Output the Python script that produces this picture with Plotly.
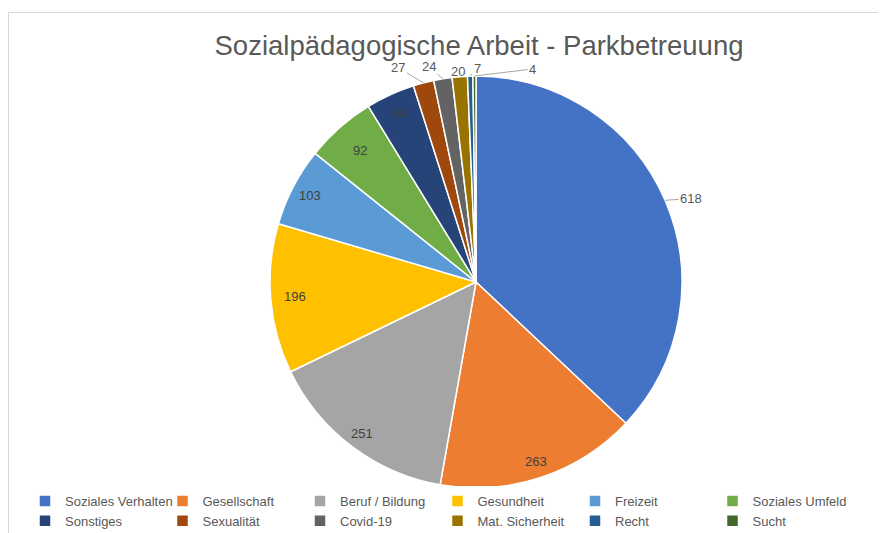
import math
import plotly.graph_objects as go

categories = ["Soziales Verhalten", "Gesellschaft", "Beruf / Bildung", "Gesundheit",
              "Freizeit", "Soziales Umfeld", "Sonstiges", "Sexualität", "Covid-19",
              "Mat. Sicherheit", "Recht", "Sucht"]
values = [618, 263, 251, 196, 103, 92, 64, 27, 24, 20, 7, 4]
colors = ["#4472C4", "#ED7D31", "#A5A5A5", "#FFC000", "#5B9BD5", "#70AD47",
          "#264478", "#9E480E", "#636363", "#997300", "#255E91", "#43682B"]

# label styling: inside labels at a fraction of the radius, outside labels with leader offsets (px)
label_outside = [True, False, False, False, False, False, False, True, True, True, True, True]
label_rfrac = [1.0, 0.92, 0.92, 0.88, 0.91, 0.85, 0.90, 1.0, 1.0, 1.0, 1.0, 1.0]
label_offset = [(26, -2), None, None, None, None, None, None,
                (-25, -15), (-14, -12), (-2, -5), (7, -8), (58, -7)]

W, H = 886, 533
OFF = 8  # page offset of the figure in the browser window
FONT = "Liberation Sans"
CX, CY, R = 476 - OFF, 282 - OFF, 206  # pie placement in figure px


def px2paper(px, py):
    return px / W, 1 - py / H


fig = go.Figure(go.Pie(
    labels=categories,
    values=values,
    sort=False,
    direction="clockwise",
    rotation=0,
    marker=dict(colors=colors, line=dict(color="white", width=1.5)),
    textinfo="none",
    textposition="none",
    domain=dict(x=[(CX - R) / W, (CX + R) / W], y=[(H - CY - R) / H, (H - CY + R) / H]),
    hoverinfo="label+value+percent",
))

# data labels derived from the slice angles
total = sum(values)
annotations = []
cum = 0
for v, out, rf, off in zip(values, label_outside, label_rfrac, label_offset):
    mid = (cum + v / 2) / total * 2 * math.pi
    cum += v
    ax_, ay_ = px2paper(CX + rf * R * math.sin(mid), CY - rf * R * math.cos(mid))
    if out:
        annotations.append(dict(
            x=ax_, y=ay_, xref="paper", yref="paper",
            text=str(v), showarrow=True, arrowhead=0, arrowwidth=1,
            arrowcolor="#A6A6A6", ax=off[0], ay=off[1], standoff=0,
            font=dict(family=FONT, size=13, color="#595959")))
    else:
        annotations.append(dict(
            x=ax_, y=ay_, xref="paper", yref="paper",
            xanchor="center", yanchor="middle",
            text=str(v), showarrow=False,
            font=dict(family=FONT, size=13, color="#404040")))

tx, ty = px2paper(479 - OFF, 45 - OFF)
lx, ly = px2paper(17, 486 - OFF)
bx0, by1 = px2paper(0.5, 12.5 - OFF)

fig.update_layout(
    width=W, height=H,
    margin=dict(l=0, r=0, t=0, b=0),
    paper_bgcolor="white",
    title=dict(text="Sozialpädagogische Arbeit - Parkbetreuung",
               x=tx, xanchor="center", y=ty, yanchor="middle",
               font=dict(family=FONT, size=27.5, color="#595959")),
    legend=dict(orientation="h", x=lx, xanchor="left", y=ly, yanchor="top",
                entrywidth=92.5, entrywidthmode="pixels",
                font=dict(family=FONT, size=13, color="#595959"),
                traceorder="normal"),
    annotations=annotations,
    shapes=[dict(type="rect", xref="paper", yref="paper",
                 x0=bx0, x1=1.05, y0=-0.05, y1=by1,
                 line=dict(color="#D9D9D9", width=1), layer="below")],
)

fig.write_html("out.html")
